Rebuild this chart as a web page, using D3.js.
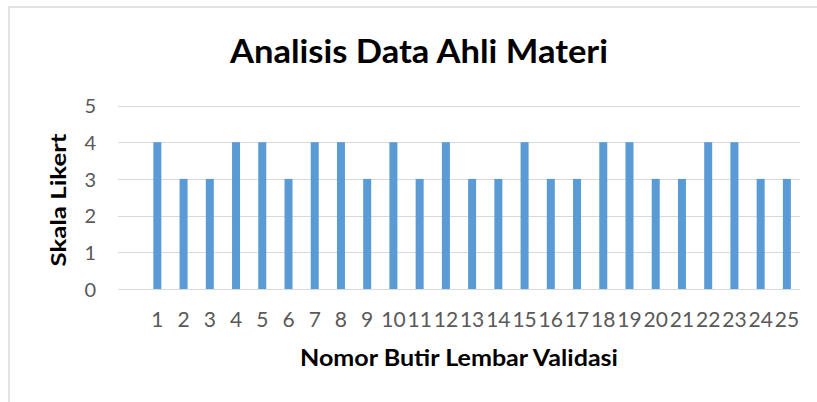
<!DOCTYPE html>
<html><head><meta charset="utf-8">
<script src="https://cdn.jsdelivr.net/npm/d3@7/dist/d3.min.js"></script>
<style>body{margin:0;background:#fff}svg{display:block}</style>
</head><body>
<svg id="c" width="817" height="402"></svg>
<script>
// Data
const categories = ["", "1","2","3","4","5","6","7","8","9","10","11","12","13","14","15","16","17","18","19","20","21","22","23","24","25"];
const values = [null, 4,3,3,4,4,3,4,4,3,4,3,4,3,3,4,3,3,4,4,3,3,4,4,3,3];
const yTicks = [0,1,2,3,4,5];
const title = "Analisis Data Ahli Materi";
const xTitle = "Nomor Butir Lembar Validasi";
const yTitle = "Skala Likert";

const svg = d3.select("#c");
// chart border
svg.append("rect").attr("x",9).attr("y",7).attr("width",830).attr("height",420)
  .attr("fill","#fff").attr("stroke","#d9d9d9").attr("stroke-width",1.5);

const x = d3.scaleBand().domain(categories).range([118,800]).paddingInner(0.695).paddingOuter(0.3475);
const y = d3.scaleLinear().domain([0,5]).range([289,105.5]);

// gridlines
svg.append("g").selectAll("line").data(yTicks).join("line")
  .attr("x1",118).attr("x2",800)
  .attr("y1",d=>Math.round(y(d))+0.5).attr("y2",d=>Math.round(y(d))+0.5)
  .attr("stroke","#d9d9d9").attr("stroke-width",1.2);

// bars
svg.append("g").selectAll("rect").data(categories.map((c,i)=>({c,v:values[i]})).filter(d=>d.v!=null)).join("rect")
  .attr("x",d=>x(d.c)).attr("width",x.bandwidth())
  .attr("y",d=>y(d.v)).attr("height",d=>y(0)-y(d.v))
  .attr("fill","#5b9bd5");

// y axis
const yAxis = d3.axisLeft(y).tickValues(yTicks).tickFormat(d3.format("d")).tickSize(0).tickPadding(0);
const gy = svg.append("g").attr("transform","translate(96,0)").call(yAxis);
gy.select(".domain").remove();
gy.selectAll("text").attr("font-family","Lato, 'Open Sans', sans-serif").attr("font-size",20).attr("fill","#595959").attr("dy","0.36em");

// x axis
const xAxis = d3.axisBottom(x).tickSize(0).tickPadding(0);
const gx = svg.append("g").attr("transform","translate(0,327)").call(xAxis);
gx.select(".domain").remove();
gx.selectAll("text").attr("font-family","Lato, 'Open Sans', sans-serif").attr("font-size",21).attr("fill","#595959").attr("dy",0);

// titles
svg.append("text").attr("x",419).attr("y",63).attr("text-anchor","middle")
  .attr("font-family","Lato, 'Open Sans', sans-serif").attr("font-weight","bold").attr("font-size",32)
  .attr("textLength",378).attr("lengthAdjust","spacingAndGlyphs")
  .attr("fill","#000").text(title);
svg.append("text").attr("x",459).attr("y",366).attr("text-anchor","middle")
  .attr("font-family","Lato, 'Open Sans', sans-serif").attr("font-weight","bold").attr("font-size",22)
  .attr("textLength",318).attr("lengthAdjust","spacingAndGlyphs")
  .attr("fill","#000").text(xTitle);
svg.append("text").attr("transform","translate(66,200) rotate(-90)").attr("text-anchor","middle")
  .attr("font-family","Lato, 'Open Sans', sans-serif").attr("font-weight","bold").attr("font-size",20)
  .attr("textLength",133).attr("lengthAdjust","spacingAndGlyphs")
  .attr("fill","#000").text(yTitle);
</script>
</body></html>
